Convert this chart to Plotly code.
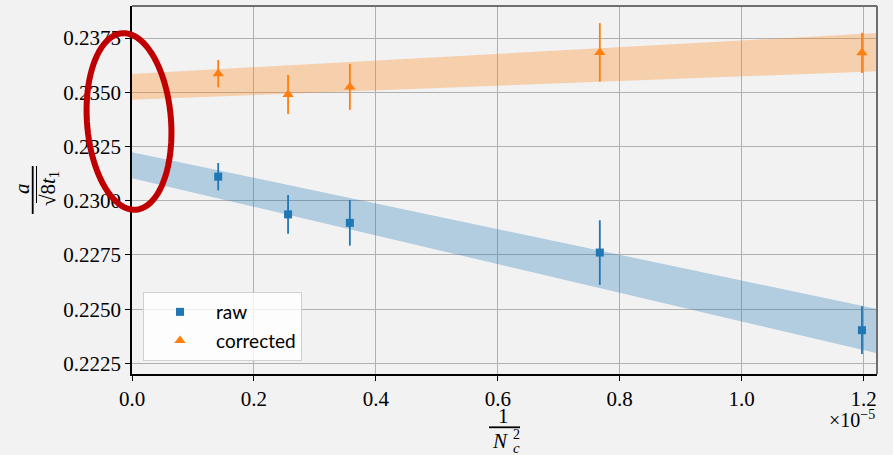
import numpy as np
import plotly.graph_objects as go

# Lattice sizes and measured ratios a / sqrt(8 t1)
Nc = [289, 361, 529, 625, 841]
raw = [0.22403, 0.22761, 0.22898, 0.22937, 0.23111]
raw_err = [0.00110, 0.00149, 0.00105, 0.00089, 0.00063]
corrected = [0.23682, 0.23684, 0.23525, 0.23490, 0.23586]
corrected_err = [0.00093, 0.00135, 0.00106, 0.00090, 0.00063]

# Continuum-fit bands (in units of 1e-5 on x)
fit_x = [0.0, 1.222]
raw_band_lo = [0.23104, 0.22297]
raw_band_hi = [0.23224, 0.22501]
corr_band_lo = [0.23466, 0.23597]
corr_band_hi = [0.23585, 0.23773]

y_ticks = [0.2225, 0.2250, 0.2275, 0.2300, 0.2325, 0.2350, 0.2375]
x_ticks = [0.0, 0.2, 0.4, 0.6, 0.8, 1.0, 1.2]

x = [1e5 / n**2 for n in Nc]

BLUE = "#1f77b4"
ORANGE = "#ff7f0e"
BG = "#f2f2f2"
SERIF = "Liberation Serif"

W, H = 893, 455
L, R, T, B = 132, 16, 6, 81
PW, PH = W - L - R, H - T - B


def px(xp, yp):
    return (xp - L) / PW, (H - B - yp) / PH


fig = go.Figure()

# fit bands
for lo, hi, col in [(raw_band_lo, raw_band_hi, "rgba(31,119,180,0.3)"),
                    (corr_band_lo, corr_band_hi, "rgba(255,127,14,0.3)")]:
    fig.add_trace(go.Scatter(x=fit_x, y=lo, mode="lines", line=dict(width=0),
                             showlegend=False, hoverinfo="skip"))
    fig.add_trace(go.Scatter(x=fit_x, y=hi, mode="lines", line=dict(width=0),
                             fill="tonexty", fillcolor=col,
                             showlegend=False, hoverinfo="skip"))

fig.add_trace(go.Scatter(
    x=x, y=raw, mode="markers", name="raw", legendgroup="raw",
    marker=dict(symbol="square", size=8, color=BLUE),
    error_y=dict(type="data", array=raw_err, width=0, thickness=1.8, color=BLUE),
))
fig.add_trace(go.Scatter(
    x=x, y=corrected, mode="markers", name="corrected", legendgroup="corr",
    marker=dict(symbol="triangle-up", size=10, color=ORANGE),
    error_y=dict(type="data", array=corrected_err, width=0, thickness=1.8, color=ORANGE),
))

shapes = []
# top / right spines
shapes.append(dict(type="line", xref="paper", yref="paper", x0=0, x1=1, y0=1, y1=1,
                   line=dict(color="#6e6e6e", width=2)))
shapes.append(dict(type="line", xref="paper", yref="paper", x0=1, x1=1, y0=0, y1=1,
                   line=dict(color="#6e6e6e", width=2)))

# x-axis title fraction bar
a0, b0 = px(489, 427.3)
a1, _ = px(520, 427.3)
shapes.append(dict(type="line", xref="paper", yref="paper", x0=a0, x1=a1, y0=b0, y1=b0,
                   line=dict(color="black", width=1.8)))
# y-axis title fraction bar and radical vinculum
a0, b0 = px(32.7, 166)
_, b1 = px(32.7, 214)
shapes.append(dict(type="line", xref="paper", yref="paper", x0=a0, x1=a0, y0=b0, y1=b1,
                   line=dict(color="black", width=1.8)))
a0, b0 = px(36.5, 166)
_, b1 = px(36.5, 203)
shapes.append(dict(type="line", xref="paper", yref="paper", x0=a0, x1=a0, y0=b0, y1=b1,
                   line=dict(color="black", width=1)))

# highlight ellipse near the x = 0 end
cx, cy, ea, eb, phi = 129, 121.5, 42, 88.5, np.radians(-4.5)
t = np.linspace(0, 2 * np.pi, 90)
ex = cx + ea * np.cos(t) * np.cos(phi) - eb * np.sin(t) * np.sin(phi)
ey = cy + ea * np.cos(t) * np.sin(phi) + eb * np.sin(t) * np.cos(phi)
pts = [px(u, v) for u, v in zip(ex, ey)]
path = "M " + " L ".join(f"{u:.5f},{v:.5f}" for u, v in pts) + " Z"
shapes.append(dict(type="path", xref="paper", yref="paper", path=path,
                   line=dict(color="#c00000", width=6), layer="above"))

ann = []


def text(xp, yp, s, size=21, angle=0, xanchor="center", italic=False):
    u, v = px(xp, yp)
    if italic:
        s = f"<i>{s}</i>"
    ann.append(dict(x=u, y=v, xref="paper", yref="paper", text=s, showarrow=False,
                    xanchor=xanchor, yanchor="middle", textangle=angle,
                    font=dict(family=SERIF, size=size, color="black")))


# x title: 1 / N_c^2
text(503.5, 416, "1")
text(500, 441, "N", italic=True)
text(516, 434, "2", size=14)
text(516, 448, "c", size=15, italic=True)
# y title: a / (sqrt(8) t_1)
text(22, 189, "a", angle=-90, italic=True)
text(49, 189, "√8<i>t</i><sub>1</sub>", angle=-90)
# offset label
text(877, 419, "×10<sup>−5</sup>", size=20, xanchor="right")

fig.update_layout(
    width=W, height=H,
    margin=dict(l=L, r=R, t=T, b=B),
    paper_bgcolor=BG, plot_bgcolor=BG,
    shapes=shapes, annotations=ann,
    legend=dict(x=px(143, 0)[0], y=px(0, 292)[1], xanchor="left", yanchor="top",
                bgcolor="rgba(255,255,255,0.8)", bordercolor="#d0d0d0", borderwidth=1,
                font=dict(family="Lato", size=19, color="black"),
                itemwidth=62, tracegroupgap=1),
    showlegend=True,
)
fig.update_xaxes(range=[0, fit_x[1]], tickvals=x_ticks, tickformat=".1f",
                 showgrid=True, gridcolor="#b0b0b0", gridwidth=1,
                 showline=True, linecolor="black", linewidth=1.5,
                 ticks="outside", ticklen=5, tickcolor="black",
                 zeroline=False, tickfont=dict(family=SERIF, size=21, color="black"))
fig.update_yaxes(range=[0.22201, 0.23898], tickvals=y_ticks, tickformat=".4f",
                 showgrid=True, gridcolor="#b0b0b0", gridwidth=1,
                 showline=True, linecolor="black", linewidth=1.5,
                 ticks="outside", ticklen=5, tickcolor="black",
                 zeroline=False, tickfont=dict(family=SERIF, size=21, color="black"))

fig.write_html("out.html")
